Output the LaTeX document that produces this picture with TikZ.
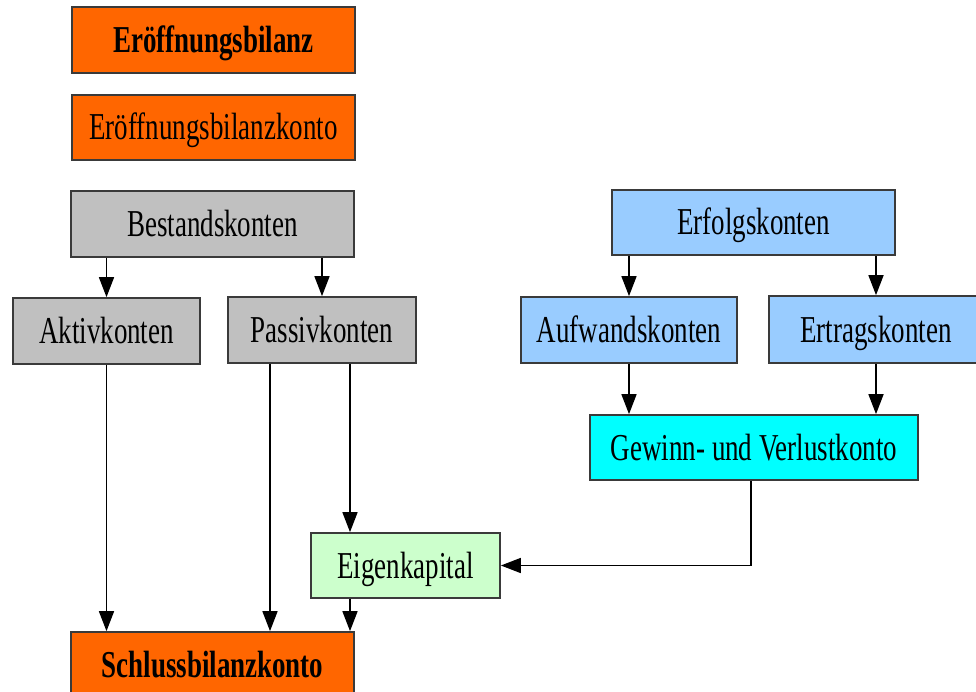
\documentclass[tikz,border=0pt]{standalone}
\usepackage{fontspec}
\setmainfont[FakeStretch=0.71]{Liberation Serif}
\usetikzlibrary{arrows.meta,calc}
\definecolor{orng}{HTML}{FF6600}
\definecolor{gry}{HTML}{C0C0C0}
\definecolor{lblue}{HTML}{99CCFF}
\definecolor{cyn}{HTML}{00FFFF}
\definecolor{lgreen}{HTML}{CCFFCC}
\definecolor{bord}{HTML}{3A3A3A}
\begin{document}
\begin{tikzpicture}[x=1pt,y=-1pt,
  box/.style={draw=bord,line width=1.7pt,rectangle,inner sep=0pt,
    text height=25pt,text depth=0pt,
    font=\fontsize{38}{44}\selectfont},
  arr/.style={draw=black,line width=1.6pt,-{Triangle[width=15pt,length=20pt]}}]
\useasboundingbox (0,0) rectangle (976,692);
\node[box,fill=orng,minimum width=283pt,minimum height=66pt,font=\fontsize{38}{44}\selectfont\bfseries] (eb) at (213.5,40) {Eröffnungsbilanz};
\node[box,fill=orng,minimum width=283pt,minimum height=65pt] (ebk) at (213.5,127.5) {Eröffnungsbilanzkonto};
\node[box,fill=gry,minimum width=283pt,minimum height=66pt] (bk) at (212.5,224) {Bestandskonten};
\node[box,fill=gry,minimum width=187pt,minimum height=66pt] (ak) at (106.5,331) {Aktivkonten};
\node[box,fill=gry,minimum width=188pt,minimum height=66pt] (pk) at (322,330) {Passivkonten};
\node[box,fill=lblue,minimum width=283pt,minimum height=65pt] (ek) at (753.5,222.5) {Erfolgskonten};
\node[box,fill=lblue,minimum width=216pt,minimum height=66pt] (awk) at (629,330) {Aufwandskonten};
\node[box,fill=lblue,minimum width=214pt,minimum height=67pt] (etk) at (876,329.5) {Ertragskonten};
\node[box,fill=cyn,minimum width=328pt,minimum height=65pt] (guv) at (754,447.5) {Gewinn- und Verlustkonto};
\node[box,fill=lgreen,minimum width=189pt,minimum height=65pt] (eig) at (405.5,565.5) {Eigenkapital};
\node[box,fill=orng,minimum width=283pt,minimum height=66pt,font=\fontsize{38}{44}\selectfont\bfseries] (sbk) at (212.5,665) {Schlussbilanzkonto};
% connectors
\draw[arr] (bk.south -| ak.north) -- (ak.north);
\draw[arr] (bk.south -| pk.north) -- (pk.north);
\draw[arr] (ek.south -| awk.north) -- (awk.north);
\draw[arr] (ek.south -| etk.north) -- (etk.north);
\draw[arr] (awk.south) -- (awk.south |- guv.north);
\draw[arr] (etk.south) -- (etk.south |- guv.north);
\draw[arr] (ak.south) -- (ak.south |- sbk.north);
\coordinate (pl) at ([xshift=-52pt]pk.south);
\coordinate (pr) at ([xshift=28pt]pk.south);
\draw[arr] (pl) -- (pl |- sbk.north);
\draw[arr] (pr) -- (pr |- eig.north);
\draw[arr] (pr |- eig.south) -- (pr |- sbk.north);
\draw[arr] ([xshift=-3pt]guv.south) |- (eig.east);
\end{tikzpicture}
\end{document}
